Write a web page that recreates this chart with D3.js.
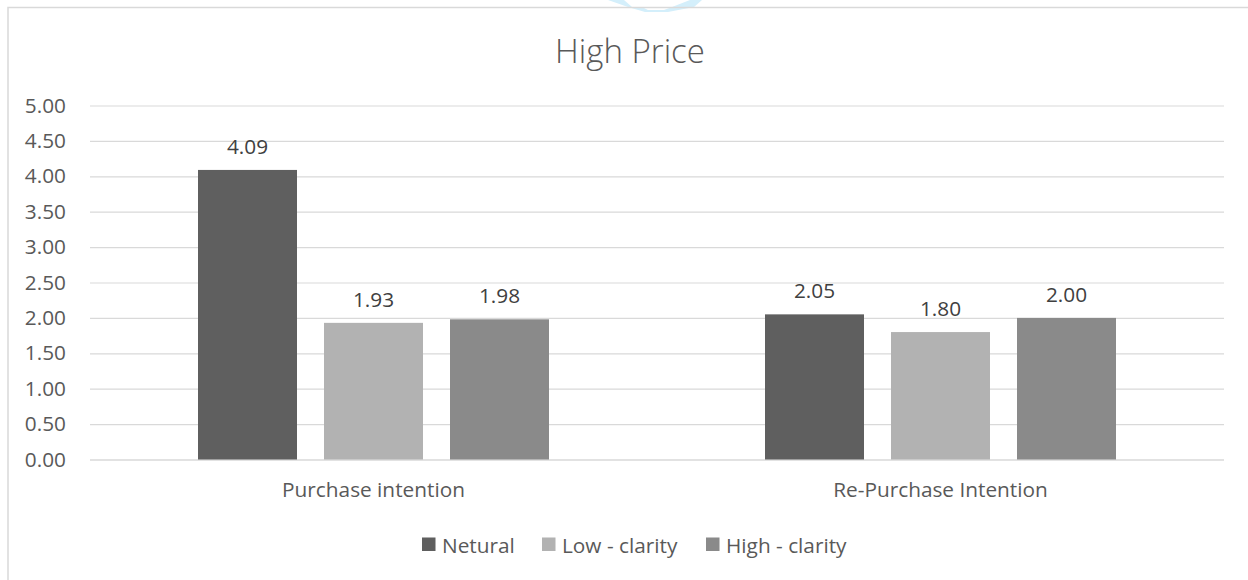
<!DOCTYPE html>
<html>
<head>
<meta charset="utf-8">
<script src="https://cdn.jsdelivr.net/npm/d3@7"></script>
<style>
  html, body { margin: 0; padding: 0; background: #ffffff; }
  svg { display: block; font-family: "Open Sans", "Noto Sans", sans-serif; }
</style>
</head>
<body>
<svg id="chart" width="1248" height="580"></svg>
<script>
// Chart data
const categories = ["Purchase intention", "Re-Purchase Intention"];
const seriesNames = ["Netural", "Low - clarity", "High - clarity"];
const neturalValues = [4.09, 2.05];
const lowClarityValues = [1.93, 1.80];
const highClarityValues = [1.98, 2.00];
const yTicks = [0, 0.5, 1, 1.5, 2, 2.5, 3, 3.5, 4, 4.5, 5];
const titleText = "High Price";

const seriesValues = [neturalValues, lowClarityValues, highClarityValues];
const seriesColors = ["#5f5f5f", "#b2b2b2", "#8a8a8a"];

const svg = d3.select("#chart");
const textColor = "#595959";
const gridColor = "#d9d9d9";
const fontSize = "20.8px";

// Faint mark at the top edge
svg.append("path")
  .attr("d", "M608,0 L624,0 L632,7 L642,7 L648,10 L664,10 L672,7 L690,0 L702,0 L694,7 L668,12 L645,12 L628,7 Z")
  .attr("fill", "#d4effb");

// Chart area frame
svg.append("path")
  .attr("d", "M8,600 L8,7.5 L1260,7.5")
  .attr("fill", "none")
  .attr("stroke", gridColor)
  .attr("stroke-width", 1.5);

// Scales
const plot = { left: 90, right: 1224, top: 105.5, bottom: 459.5 };
const x0 = d3.scaleBand().domain(categories).range([plot.left, plot.right]).padding(0);
const groupWidth = 351;
const groupOffset = (x0.bandwidth() - groupWidth) / 2;
const x1 = d3.scaleBand().domain(seriesNames)
  .range([groupOffset, groupOffset + groupWidth])
  .paddingInner(27 / 126).paddingOuter(0);
const y = d3.scaleLinear().domain([0, 5]).range([plot.bottom, plot.top]);

// Gridlines via the axis generator
const grid = svg.append("g")
  .attr("transform", `translate(${plot.left},0)`)
  .call(d3.axisRight(y).tickValues(yTicks).tickSize(plot.right - plot.left).tickFormat(""));
grid.select(".domain").remove();
grid.selectAll(".tick line")
  .attr("stroke", gridColor)
  .attr("stroke-width", d => d === 0 ? 1.6 : 1.2);

// Y tick labels
const yAxis = svg.append("g")
  .attr("transform", `translate(66,0)`)
  .call(d3.axisLeft(y).tickValues(yTicks).tickSize(0).tickPadding(0).tickFormat(d3.format(".2f")));
yAxis.select(".domain").remove();
yAxis.selectAll("text")
  .attr("fill", textColor)
  .style("font-size", fontSize)
  .style("font-family", "'Open Sans', sans-serif");

// Bars
const groups = svg.append("g").selectAll("g")
  .data(categories)
  .join("g")
  .attr("transform", d => `translate(${x0(d)},0)`);

groups.selectAll("rect")
  .data((c, ci) => seriesNames.map((s, si) => ({ s, si, v: seriesValues[si][ci] })))
  .join("rect")
  .attr("x", d => x1(d.s))
  .attr("y", d => y(d.v))
  .attr("width", x1.bandwidth())
  .attr("height", d => y(0) - y(d.v))
  .attr("fill", d => seriesColors[d.si]);

// Data labels
groups.selectAll("text.val")
  .data((c, ci) => seriesNames.map((s, si) => ({ s, si, v: seriesValues[si][ci] })))
  .join("text")
  .attr("class", "val")
  .attr("x", d => x1(d.s) + x1.bandwidth() / 2)
  .attr("y", d => y(d.v) - 16)
  .attr("text-anchor", "middle")
  .attr("fill", "#404040")
  .style("font-size", fontSize)
  .text(d => d3.format(".2f")(d.v));

// Category labels
svg.append("g").selectAll("text")
  .data(categories)
  .join("text")
  .attr("x", d => x0(d) + x0.bandwidth() / 2)
  .attr("y", 497)
  .attr("text-anchor", "middle")
  .attr("fill", textColor)
  .style("font-size", fontSize)
  .text(d => d);

// Title
svg.append("text")
  .attr("x", 630)
  .attr("y", 63)
  .attr("text-anchor", "middle")
  .attr("fill", textColor)
  .style("font-size", "33px")
  .style("font-weight", "300")
  .text(titleText);

// Legend
const legendX = [422, 542, 706];
const legend = svg.append("g").selectAll("g")
  .data(seriesNames)
  .join("g")
  .attr("transform", (d, i) => `translate(${legendX[i]},0)`);
legend.append("rect")
  .attr("x", 0).attr("y", 537.5)
  .attr("width", 13.5).attr("height", 13.5)
  .attr("fill", (d, i) => seriesColors[i]);
legend.append("text")
  .attr("x", 20)
  .attr("y", 552.5)
  .attr("fill", textColor)
  .style("font-size", fontSize)
  .text(d => d);
</script>
</body>
</html>
